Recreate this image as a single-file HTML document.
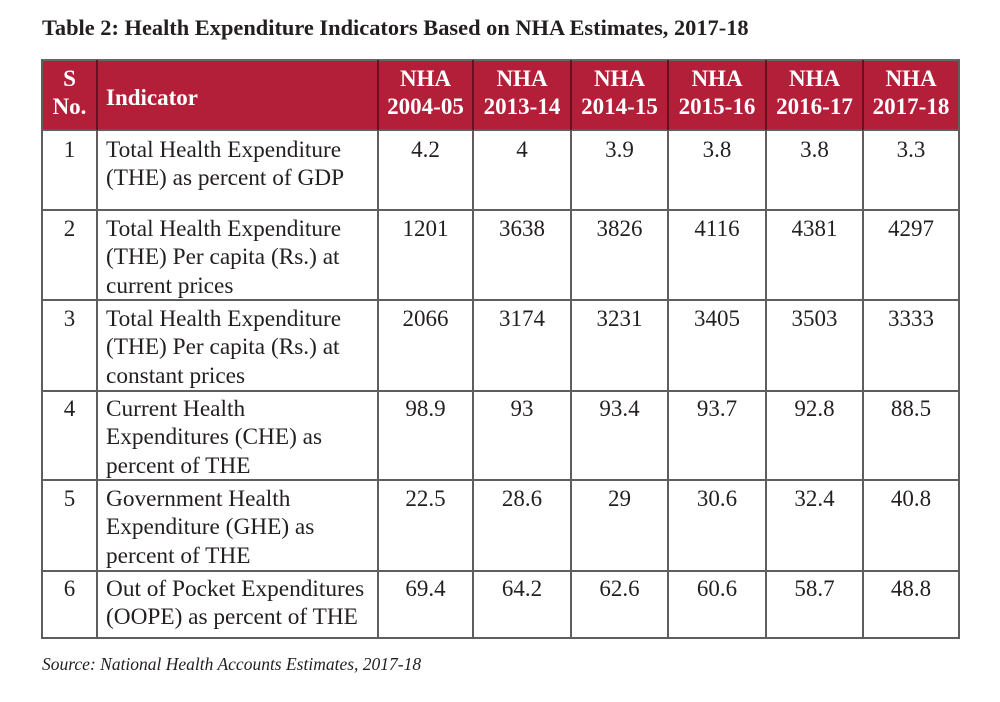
<!DOCTYPE html>
<html><head><meta charset="utf-8"><style>
html,body{margin:0;padding:0;background:#fff;}
body{width:1000px;height:702px;position:relative;overflow:hidden;font-family:"Liberation Serif",serif;color:#231f20;}
.a{position:absolute;}
.h{position:absolute;height:2px;background:#5e5e5e;left:41px;width:919px;}
.v{position:absolute;width:2px;background:#5e5e5e;top:59px;height:580px;}
.vr{position:absolute;width:2px;background:#6a0f1f;top:60px;height:70px;}
.t{position:absolute;font-size:23.3px;line-height:28.3px;white-space:nowrap;}
.n{position:absolute;font-size:23px;line-height:28.3px;text-align:center;white-space:nowrap;}
.hd{position:absolute;font-size:23px;line-height:28px;color:#fff;font-weight:bold;text-align:center;white-space:nowrap;}
</style></head><body>
<div class="a" style="left:42px;top:15px;font-size:22.4px;font-weight:bold;white-space:nowrap;line-height:26px;">Table 2: Health Expenditure Indicators Based on NHA Estimates, 2017-18</div>

<div class="a" style="left:42px;top:60px;width:917px;height:70px;background:#b31e39;"></div>

<!-- header text -->
<div class="hd" style="left:42px;width:55px;top:65px;">S<br>No.</div>
<div class="hd" style="left:106px;top:84px;text-align:left;">Indicator</div>
<div class="hd" style="left:378px;width:95px;top:65px;">NHA<br>2004-05</div>
<div class="hd" style="left:473px;width:98px;top:65px;">NHA<br>2013-14</div>
<div class="hd" style="left:571px;width:97px;top:65px;">NHA<br>2014-15</div>
<div class="hd" style="left:668px;width:98px;top:65px;">NHA<br>2015-16</div>
<div class="hd" style="left:766px;width:97px;top:65px;">NHA<br>2016-17</div>
<div class="hd" style="left:863px;width:96px;top:65px;">NHA<br>2017-18</div>

<!-- lines -->
<div class="h" style="top:59px;background:#666;"></div>
<div class="h" style="top:129px;"></div>
<div class="h" style="top:209px;"></div>
<div class="h" style="top:299px;"></div>
<div class="h" style="top:390px;"></div>
<div class="h" style="top:479px;"></div>
<div class="h" style="top:570px;"></div>
<div class="h" style="top:637px;"></div>

<div class="v" style="left:41px;"></div>
<div class="v" style="left:958px;"></div>
<div class="v" style="left:96px;top:130px;height:508px;"></div>
<div class="v" style="left:377px;top:130px;height:508px;"></div>
<div class="v" style="left:472px;top:130px;height:508px;"></div>
<div class="v" style="left:570px;top:130px;height:508px;"></div>
<div class="v" style="left:667px;top:130px;height:508px;"></div>
<div class="v" style="left:765px;top:130px;height:508px;"></div>
<div class="v" style="left:862px;top:130px;height:508px;"></div>
<div class="vr" style="left:96px;"></div>
<div class="vr" style="left:377px;"></div>
<div class="vr" style="left:472px;"></div>
<div class="vr" style="left:570px;"></div>
<div class="vr" style="left:667px;"></div>
<div class="vr" style="left:765px;"></div>
<div class="vr" style="left:862px;"></div>

<!-- row 1 -->
<div class="n" style="left:42px;width:55px;top:136px;">1</div>
<div class="t" style="left:106px;top:136px;">Total Health Expenditure<br>(THE) as percent of GDP</div>
<div class="n" style="left:378px;width:95px;top:136px;">4.2</div>
<div class="n" style="left:473px;width:98px;top:136px;">4</div>
<div class="n" style="left:571px;width:97px;top:136px;">3.9</div>
<div class="n" style="left:668px;width:98px;top:136px;">3.8</div>
<div class="n" style="left:766px;width:97px;top:136px;">3.8</div>
<div class="n" style="left:863px;width:96px;top:136px;">3.3</div>

<!-- row 2 -->
<div class="n" style="left:42px;width:55px;top:215px;">2</div>
<div class="t" style="left:106px;top:215px;">Total Health Expenditure<br>(THE) Per capita (Rs.) at<br>current prices</div>
<div class="n" style="left:378px;width:95px;top:215px;">1201</div>
<div class="n" style="left:473px;width:98px;top:215px;">3638</div>
<div class="n" style="left:571px;width:97px;top:215px;">3826</div>
<div class="n" style="left:668px;width:98px;top:215px;">4116</div>
<div class="n" style="left:766px;width:97px;top:215px;">4381</div>
<div class="n" style="left:863px;width:96px;top:215px;">4297</div>

<!-- row 3 -->
<div class="n" style="left:42px;width:55px;top:305px;">3</div>
<div class="t" style="left:106px;top:305px;">Total Health Expenditure<br>(THE) Per capita (Rs.) at<br>constant prices</div>
<div class="n" style="left:378px;width:95px;top:305px;">2066</div>
<div class="n" style="left:473px;width:98px;top:305px;">3174</div>
<div class="n" style="left:571px;width:97px;top:305px;">3231</div>
<div class="n" style="left:668px;width:98px;top:305px;">3405</div>
<div class="n" style="left:766px;width:97px;top:305px;">3503</div>
<div class="n" style="left:863px;width:96px;top:305px;">3333</div>

<!-- row 4 -->
<div class="n" style="left:42px;width:55px;top:395px;">4</div>
<div class="t" style="left:106px;top:395px;">Current Health<br>Expenditures (CHE) as<br>percent of THE</div>
<div class="n" style="left:378px;width:95px;top:395px;">98.9</div>
<div class="n" style="left:473px;width:98px;top:395px;">93</div>
<div class="n" style="left:571px;width:97px;top:395px;">93.4</div>
<div class="n" style="left:668px;width:98px;top:395px;">93.7</div>
<div class="n" style="left:766px;width:97px;top:395px;">92.8</div>
<div class="n" style="left:863px;width:96px;top:395px;">88.5</div>

<!-- row 5 -->
<div class="n" style="left:42px;width:55px;top:485px;">5</div>
<div class="t" style="left:106px;top:485px;">Government Health<br>Expenditure (GHE) as<br>percent of THE</div>
<div class="n" style="left:378px;width:95px;top:485px;">22.5</div>
<div class="n" style="left:473px;width:98px;top:485px;">28.6</div>
<div class="n" style="left:571px;width:97px;top:485px;">29</div>
<div class="n" style="left:668px;width:98px;top:485px;">30.6</div>
<div class="n" style="left:766px;width:97px;top:485px;">32.4</div>
<div class="n" style="left:863px;width:96px;top:485px;">40.8</div>

<!-- row 6 -->
<div class="n" style="left:42px;width:55px;top:575px;">6</div>
<div class="t" style="left:106px;top:575px;">Out of Pocket Expenditures<br>(OOPE) as percent of THE</div>
<div class="n" style="left:378px;width:95px;top:575px;">69.4</div>
<div class="n" style="left:473px;width:98px;top:575px;">64.2</div>
<div class="n" style="left:571px;width:97px;top:575px;">62.6</div>
<div class="n" style="left:668px;width:98px;top:575px;">60.6</div>
<div class="n" style="left:766px;width:97px;top:575px;">58.7</div>
<div class="n" style="left:863px;width:96px;top:575px;">48.8</div>

<div class="a" style="left:42px;top:652px;font-size:17.5px;font-style:italic;white-space:nowrap;line-height:24px;">Source: National Health Accounts Estimates, 2017-18</div>
</body></html>
